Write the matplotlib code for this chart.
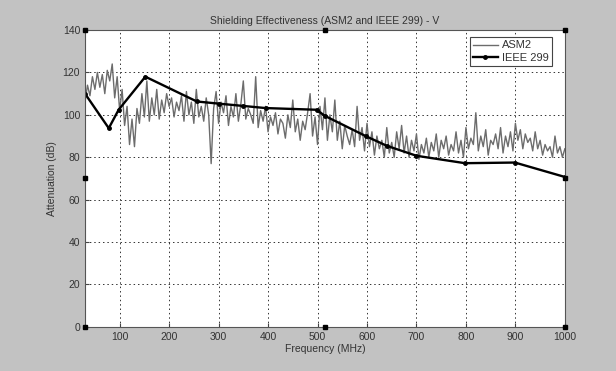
import matplotlib
matplotlib.use("Agg")
import matplotlib.pyplot as plt
import numpy as np

# ── data ──
asm2_freq = np.arange(30, 1001, 5)
asm2_db = [
    106, 114, 109, 118, 112, 120, 113, 119, 110, 121,
    116, 124, 108, 118, 102, 112, 95, 104, 86, 98,
    85, 103, 96, 110, 99, 116, 97, 108, 100, 112,
    98, 107, 101, 110, 104, 108, 99, 106, 102, 109,
    97, 111, 100, 106, 96, 112, 99, 104, 97, 108,
    100, 77, 103, 111, 96, 106, 101, 109, 95, 104,
    99, 110, 97, 105, 116, 98, 103, 100, 96, 118,
    94, 102, 97, 104, 92, 99, 95, 101, 91, 98,
    96, 89, 100, 94, 107, 92, 98, 88, 97, 93,
    101, 110, 90, 99, 86, 104, 93, 108, 88, 100,
    92, 107, 88, 97, 84, 95, 90, 86, 93, 85,
    104, 88, 94, 83, 96, 85, 92, 81, 90, 84,
    88, 80, 94, 82, 87, 80, 92, 84, 95, 82,
    90, 80, 88, 83, 91, 79, 86, 82, 89, 80,
    87, 83, 91, 80, 88, 84, 90, 81, 86, 83,
    92, 82, 88, 80, 94, 84, 89, 86, 101, 83,
    90, 85, 93, 81, 88, 86, 91, 84, 94, 82,
    90, 85, 92, 83, 96, 88, 93, 84, 91, 87,
    89, 83, 92, 84, 88, 81, 86, 83, 85, 80,
    90, 82, 85, 80, 84,
]

ieee_freq = [30, 78, 98, 152, 256, 300, 350, 395, 498, 515, 599, 640, 700, 798, 899, 1000]
ieee_db = [110, 93.7, 102.4, 118, 106.3, 105.3, 104.2, 103.2, 102.4, 99.5, 89.8, 85.4, 80.7, 77.2, 77.5, 70.7]

# selection handles of the axes (MATLAB edit mode)
handle_x = [30, 515, 1000, 30, 1000, 30, 515, 1000]
handle_y = [0, 0, 0, 70, 70, 140, 140, 140]

x_ticks = list(range(100, 1001, 100))
y_ticks = list(range(0, 141, 20))

plt.rcParams["font.family"] = ["Liberation Sans", "DejaVu Sans"]

fig = plt.figure(figsize=(6.16, 3.71), dpi=100, facecolor="#c2c2c2")
ax = fig.add_axes([0.138, 0.119, 0.779, 0.800])
ax.set_facecolor("white")

ax.plot(asm2_freq, asm2_db, color="#6c6c6c", lw=1.0, label="ASM2")
ax.plot(ieee_freq, ieee_db, color="black", lw=1.7, marker=".", ms=5, label="IEEE 299")
ax.plot(handle_x, handle_y, "s", color="black", ms=3, clip_on=False, zorder=5)

ax.set_xlim(30, 1000)
ax.set_ylim(0, 140)
ax.set_xticks(x_ticks)
ax.set_yticks(y_ticks)
ax.tick_params(direction="in", labelsize=7.5, length=3, colors="#444444", labelcolor="#333333")
ax.grid(True, linestyle=(0, (1.5, 3)), color="#333333", lw=0.7)
for s in ax.spines.values():
    s.set_color("#555555")
    s.set_linewidth(0.8)

ax.set_title("Shielding Effectiveness (ASM2 and IEEE 299) - V", fontsize=7.5, color="#333333", pad=4)
ax.set_xlabel("Frequency (MHz)", fontsize=7.5, color="#333333", labelpad=2)
ax.set_ylabel("Attenuation (dB)", fontsize=7.5, color="#333333", labelpad=4)

leg = ax.legend(loc="upper right", bbox_to_anchor=(0.985, 0.995), fontsize=8, fancybox=False,
                framealpha=1, edgecolor="#444444", borderpad=0.3, labelspacing=0.2,
                handlelength=2.2, handletextpad=0.4)
leg.get_frame().set_linewidth(0.8)
for t in leg.get_texts():
    t.set_color("#333333")

fig.savefig("out.png", dpi=100, facecolor=fig.get_facecolor())
